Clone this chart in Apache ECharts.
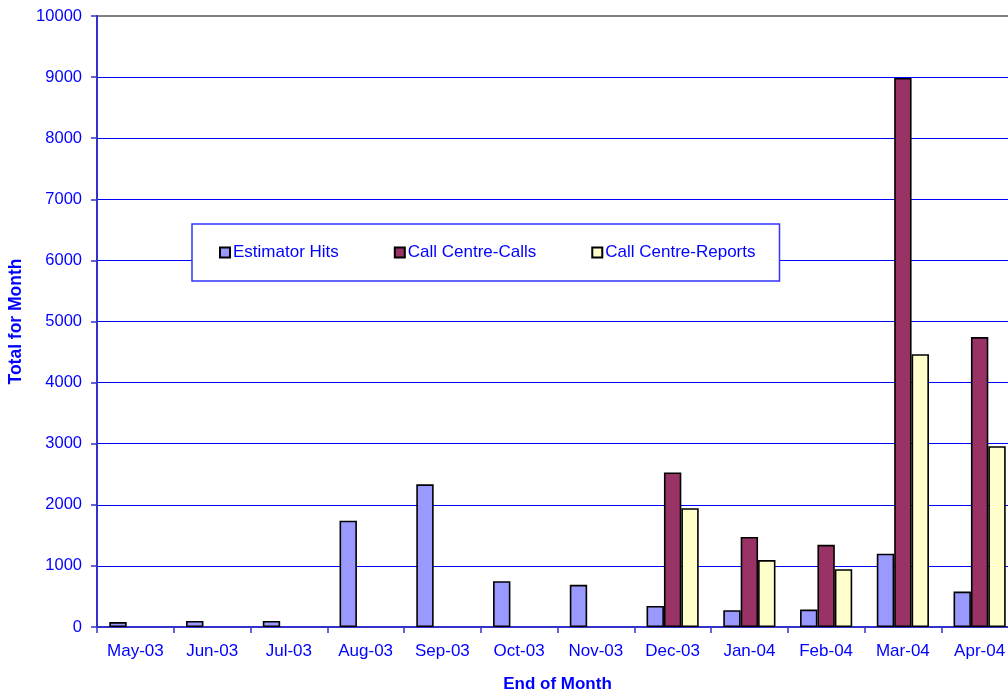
<!DOCTYPE html>
<html>
<head>
<meta charset="utf-8">
<title>Monthly Totals</title>
<script src="https://cdn.jsdelivr.net/npm/echarts@6/dist/echarts.min.js"></script>
<style>
  html, body { margin: 0; padding: 0; background: #ffffff; }
  #chart { width: 1008px; height: 695px; }
</style>
</head>
<body>
<div id="chart"></div>
<script>
// Month-end categories
const months = ['May-03', 'Jun-03', 'Jul-03', 'Aug-03', 'Sep-03', 'Oct-03',
                'Nov-03', 'Dec-03', 'Jan-04', 'Feb-04', 'Mar-04', 'Apr-04'];

// Monthly totals per source (null = no data for that month)
const estimatorHits = [80, 100, 100, 1740, 2335, 750, 690, 345, 275, 285, 1200, 580];
const callCentreCalls = [null, null, null, null, null, null, null, 2530, 1475, 1345, 8985, 4745];
const callCentreReports = [null, null, null, null, null, null, null, 1945, 1095, 945, 4465, 2960];

const seriesNames = ['Estimator Hits', 'Call Centre-Calls', 'Call Centre-Reports'];
const seriesColors = ['#9999FF', '#993366', '#FFFFCC'];

const textBlue = '#0000FF';
const font = 'Arial, "Liberation Sans", sans-serif';

const chart = echarts.init(document.getElementById('chart'), null, { renderer: 'canvas' });

function barSeries(name, data, color) {
  return {
    name: name,
    type: 'bar',
    data: data,
    barGap: '0%',
    barCategoryGap: '32%',
    itemStyle: { color: color, borderColor: '#000000', borderWidth: 1.6 },
    emphasis: { disabled: true }
  };
}

chart.setOption({
  animation: false,
  backgroundColor: '#ffffff',
  textStyle: { fontFamily: font },
  grid: {
    left: 97, top: 16, right: -10, bottom: 68,
    outerBoundsMode: 'none',
    containLabel: false,
    show: true, borderColor: '#808080', borderWidth: 2, backgroundColor: 'transparent'
  },
  legend: {
    left: 192, top: 224,
    padding: [20, 24, 20, 27],
    itemGap: 55,
    itemWidth: 10, itemHeight: 10,
    icon: 'rect',
    borderColor: '#3333FF', borderWidth: 1.5,
    backgroundColor: '#ffffff',
    textStyle: { color: textBlue, fontSize: 17, fontFamily: font, padding: [0, 0, 0, -2] },
    data: seriesNames
  },
  xAxis: {
    type: 'category',
    data: months,
    name: 'End of Month',
    nameLocation: 'middle',
    nameGap: 49,
    nameTextStyle: { color: textBlue, fontSize: 17, fontWeight: 'bold', fontFamily: font },
    axisLine: { lineStyle: { color: '#3333CC', width: 2 } },
    axisTick: { show: true, length: 6, lineStyle: { color: '#3333CC', width: 1.5 } },
    axisLabel: { color: textBlue, fontSize: 17, margin: 16, fontFamily: font },
    splitLine: { show: false }
  },
  yAxis: {
    type: 'value',
    min: 0, max: 10000, interval: 1000,
    name: 'Total for Month',
    nameLocation: 'middle',
    nameGap: 67,
    nameTextStyle: { color: textBlue, fontSize: 17.5, fontWeight: 'bold', fontFamily: font },
    axisLine: { show: true, lineStyle: { color: '#3333CC', width: 2 } },
    axisTick: { show: true, length: 6, lineStyle: { color: '#3333CC', width: 1.5 } },
    axisLabel: {
      color: textBlue, fontSize: 16.5, margin: 15, fontFamily: font,
      formatter: function (v) { return String(v); }
    },
    splitLine: { show: true, showMaxLine: false, lineStyle: { color: '#0000FF', width: 1 } }
  },
  series: [
    barSeries(seriesNames[0], estimatorHits, seriesColors[0]),
    barSeries(seriesNames[1], callCentreCalls, seriesColors[1]),
    barSeries(seriesNames[2], callCentreReports, seriesColors[2])
  ]
});
</script>
</body>
</html>
